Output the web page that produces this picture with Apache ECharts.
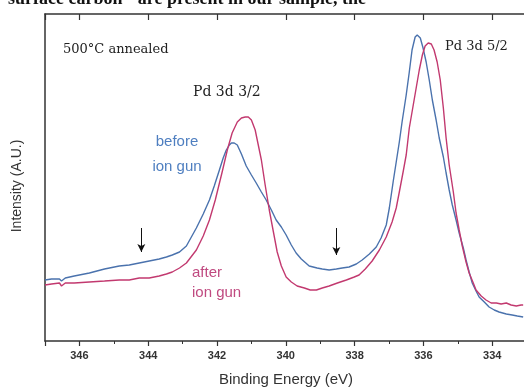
<!DOCTYPE html>
<html>
<head>
<meta charset="utf-8">
<script src="https://cdn.jsdelivr.net/npm/echarts@6/dist/echarts.min.js"></script>
<style>html,body{margin:0;padding:0;background:#fff;}#c{width:524px;height:389px;}</style>
</head>
<body>
<div id="c"></div>
<script>
// Binding energy (eV) and intensity (a.u.) — before ion gun
var beforeEnergy = [347.0,346.81,346.58,346.52,346.41,346.15,345.71,345.27,344.84,344.55,344.26,343.97,343.68,343.47,343.30,343.09,342.89,342.60,342.40,342.22,342.08,341.93,341.82,341.73,341.64,341.58,341.50,341.41,341.29,341.15,341.00,340.86,340.71,340.57,340.42,340.28,340.13,339.99,339.84,339.70,339.55,339.32,339.09,338.94,338.74,338.53,338.36,338.16,337.95,337.78,337.57,337.37,337.23,337.08,336.99,336.88,336.79,336.70,336.62,336.50,336.41,336.33,336.24,336.18,336.09,336.01,335.92,335.83,335.74,335.63,335.54,335.42,335.34,335.25,335.16,335.05,334.96,334.84,334.76,334.67,334.58,334.47,334.38,334.23,334.09,333.94,333.80,333.59,333.42,333.27,333.10];
var beforeIntensity = [61,62,62,60,63,65,68,72,75,76,78,80,82,84,86,89,95,113,127,141,155,171,183,191,196,198,198,196,187,175,166,158,149,141,131,121,114,106,96,88,82,75,73,72,71,72,73,74,77,81,87,94,103,116,133,159,179,199,219,246,269,291,304,306,303,293,279,261,241,221,203,184,168,151,136,121,108,93,81,69,58,50,44,39,34,31,29,27,26,25,24];
// after ion gun
var afterEnergy = [347.0,346.81,346.58,346.52,346.41,346.15,345.71,345.27,344.84,344.55,344.26,343.97,343.68,343.47,343.30,343.09,342.89,342.60,342.40,342.22,342.05,341.85,341.70,341.56,341.41,341.29,341.18,341.09,341.00,340.89,340.80,340.71,340.60,340.48,340.36,340.25,340.13,339.99,339.84,339.67,339.46,339.29,339.11,338.94,338.74,338.50,338.24,338.01,337.87,337.69,337.49,337.28,337.08,336.91,336.79,336.70,336.59,336.50,336.41,336.30,336.21,336.12,336.03,335.95,335.86,335.77,335.69,335.60,335.51,335.42,335.34,335.25,335.13,335.05,334.96,334.87,334.76,334.67,334.55,334.47,334.32,334.18,334.03,333.88,333.74,333.59,333.45,333.30,333.16,333.10];
var afterIntensity = [56,57,58,55,58,58,59,60,61,61,63,63,65,67,69,73,78,91,105,121,141,169,191,208,219,223,224,224,221,211,196,181,156,131,109,89,75,64,59,55,53,51,51,53,55,58,61,64,66,72,80,91,104,119,133,149,169,186,213,235,253,271,286,295,298,297,291,279,261,233,203,176,149,128,111,95,79,68,58,51,45,41,38,38,37,38,36,35,36,36];
// arrow markers (energy positions)
var arrowEnergy = [344.2, 338.53];
var xTicks = {min: 332, max: 347, interval: 2};

function zip(xs, ys){ return xs.map(function(x,i){ return [x, ys[i]]; }); }

var chart = echarts.init(document.getElementById('c'), null, {renderer:'canvas'});
var axisColor = '#333';
chart.setOption({
  animation: false,
  backgroundColor: '#fff',
  grid: {left: 45, width: 516, top: 14, height: 327, containLabel: false, outerBoundsMode: 'none'},
  xAxis: [{
    type: 'value', inverse: true, min: xTicks.min, max: xTicks.max, interval: xTicks.interval,
    position: 'bottom',
    axisLine: {show: true, onZero: false, lineStyle: {color: axisColor, width: 1.5}},
    axisTick: {show: true, length: 5, lineStyle: {color: axisColor, width: 1.2}},
    minorTick: {show: true, splitNumber: 2, length: 3, lineStyle: {color: axisColor, width: 1}},
    axisLabel: {color: '#333', fontSize: 11, fontWeight: 'bold', fontFamily: 'Liberation Sans, Arial', margin: 9, showMinLabel: false, showMaxLabel: false},
    splitLine: {show: false}
  },{
    type: 'value', inverse: true, min: xTicks.min, max: xTicks.max, interval: xTicks.interval,
    position: 'top',
    axisLine: {show: true, onZero: false, lineStyle: {color: axisColor, width: 1.5}},
    axisTick: {show: true, inside: true, length: 6, lineStyle: {color: axisColor, width: 1.2}},
    axisLabel: {show: false},
    splitLine: {show: false}
  }],
  yAxis: {
    type: 'value', min: 0, max: 327,
    axisLine: {show: true, onZero: false, lineStyle: {color: axisColor, width: 1.5}},
    axisTick: {show: false}, axisLabel: {show: false}, splitLine: {show: false}
  },
  series: [{
    name: 'before ion gun', type: 'line', showSymbol: false, smooth: false,
    data: zip(beforeEnergy, beforeIntensity),
    lineStyle: {color: '#4a72ad', width: 1.4}, itemStyle: {color: '#4a72ad'},
    markLine: {
      silent: true, symbol: ['none', 'arrow'], symbolSize: [6, 8],
      lineStyle: {color: '#111', width: 1, type: 'solid'}, label: {show: false},
      data: [
        [{coord: [arrowEnergy[0], 113]}, {coord: [arrowEnergy[0], 89]}],
        [{coord: [arrowEnergy[1], 113]}, {coord: [arrowEnergy[1], 86]}]
      ]
    }
  },{
    name: 'after ion gun', type: 'line', showSymbol: false, smooth: false,
    data: zip(afterEnergy, afterIntensity),
    lineStyle: {color: '#c2396f', width: 1.4}, itemStyle: {color: '#c2396f'}
  }],
  graphic: [
    {type: 'text', left: 8, top: -10, style: {text: 'surface carbon\u00b2\u2079 are present in our sample, the', font: 'bold 18px "Liberation Serif", serif', fill: '#111'}},
    {type: 'text', x: 63, y: 50, style: {text: '500\u00b0C annealed', font: '13px "DejaVu Serif", serif', fill: '#222', verticalAlign: 'middle'}},
    {type: 'text', x: 193, y: 92, style: {text: 'Pd 3d 3/2', font: '14px "DejaVu Serif", serif', fill: '#222', verticalAlign: 'middle'}},
    {type: 'text', x: 445, y: 47, style: {text: 'Pd 3d 5/2', font: '13px "DejaVu Serif", serif', fill: '#222', verticalAlign: 'middle'}},
    {type: 'text', x: 177, y: 142, style: {text: 'before', font: '15px "Liberation Sans", Arial, sans-serif', fill: '#4f7fc0', align: 'center', verticalAlign: 'middle'}},
    {type: 'text', x: 177, y: 167, style: {text: 'ion gun', font: '15px "Liberation Sans", Arial, sans-serif', fill: '#4f7fc0', align: 'center', verticalAlign: 'middle'}},
    {type: 'text', x: 192, y: 273, style: {text: 'after', font: '15px "Liberation Sans", Arial, sans-serif', fill: '#c04a80', verticalAlign: 'middle'}},
    {type: 'text', x: 192, y: 293, style: {text: 'ion gun', font: '15px "Liberation Sans", Arial, sans-serif', fill: '#c04a80', verticalAlign: 'middle'}},
    {type: 'text', x: 286, y: 380, style: {text: 'Binding Energy (eV)', font: '15px "Liberation Sans", Arial, sans-serif', fill: '#333', align: 'center', verticalAlign: 'middle'}},
    {type: 'text', x: 17, y: 186, rotation: Math.PI/2, style: {text: 'Intensity (A.U.)', font: '14px "Liberation Sans", Arial, sans-serif', fill: '#333', align: 'center', verticalAlign: 'middle'}}
  ]
});
</script>
</body>
</html>
